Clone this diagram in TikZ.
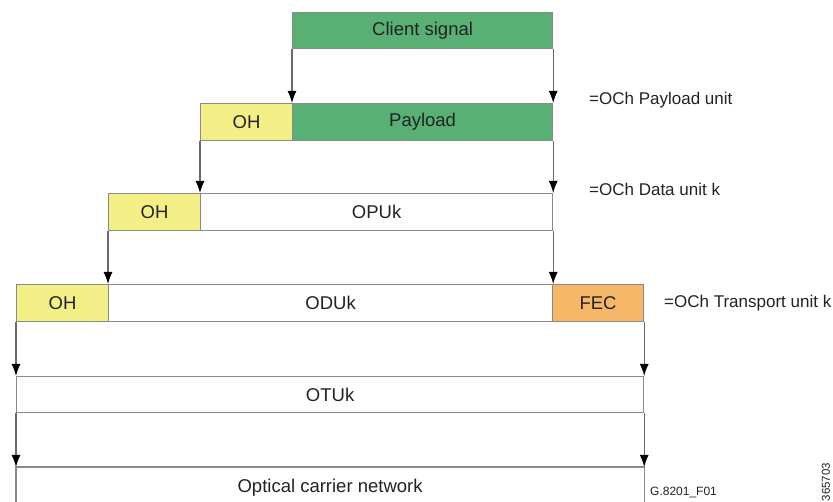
\documentclass[tikz,border=0pt]{standalone}
\usepackage{fontspec}
\setmainfont{Liberation Sans}
\usetikzlibrary{arrows.meta}
\definecolor{cgreen}{HTML}{58B074}
\definecolor{cyellow}{HTML}{F4EE86}
\definecolor{corange}{HTML}{F6B868}
\definecolor{cline}{HTML}{8A8A8A}
\definecolor{carrow}{HTML}{6A6A6A}
\definecolor{ctext}{HTML}{222222}
\begin{document}
\begin{tikzpicture}[x=1pt,y=-1pt,
  cell/.style={draw=cline, line width=1.2pt, anchor=north west, inner sep=0pt,
    minimum height=37pt, text=ctext, font=\fontsize{18.5}{18.5}\selectfont},
  green/.style={cell, fill=cgreen},
  yellow/.style={cell, fill=cyellow},
  orange/.style={cell, fill=corange},
  white/.style={cell, fill=white},
  side/.style={anchor=west, text=ctext, inner sep=0pt, font=\fontsize{17}{17}\selectfont},
  flow/.style={draw=carrow, line width=1.2pt, -{Latex[length=12pt,width=9pt,color=black]}}
]
\useasboundingbox (0,0) rectangle (833,502);
% row 1
\node[green, minimum width=260pt, minimum height=36pt] (cs) at (292,12) {Client signal};
% row 2
\node[yellow, minimum width=92pt] (oh2) at (200,103) {OH};
\node[green, minimum width=260pt] (pl) at (292,103) {Payload};
% row 3
\node[white, minimum width=352pt] (opu) at (200,193) {OPUk};
\node[yellow, minimum width=92pt] (oh3) at (108,193) {OH};
% row 4
\node[white, minimum width=444pt] (odu) at (108,284) {ODUk};
\node[yellow, minimum width=92pt] (oh4) at (16,284) {OH};
\node[orange, minimum width=91pt] (fec) at (552,284) {FEC};
% row 5
\node[white, minimum width=627pt, minimum height=36pt] (otu) at (16,376) {OTUk};
% row 6 (cut at the bottom edge)
\node[cell, draw=none, minimum width=627pt, minimum height=40pt] (ocn) at (16,467) {Optical carrier network};
\draw[draw=cline, line width=1.2pt] (ocn.south west) -- (ocn.north west) -- (ocn.north east) -- (ocn.south east);
% arrows
\draw[flow] (cs.south west) -- (pl.north west);
\draw[flow] (cs.south east) -- (pl.north east);
\draw[flow] (oh2.south west) -- (opu.north west);
\draw[flow] (pl.south east) -- (opu.north east);
\draw[flow] (oh3.south west) -- (odu.north west);
\draw[flow] (opu.south east) -- (odu.north east);
\draw[flow] (oh4.south west) -- (otu.north west);
\draw[flow] (fec.south east) -- (otu.north east);
\draw[flow] (otu.south west) -- (ocn.north west);
\draw[flow] (otu.south east) -- (ocn.north east);
% side labels
\node[side] (l1) at (589,100) {=OCh Payload unit};
\node[side] (l2) at (589,189) {=OCh Data unit k};
\node[side] (l3) at (664,303) {=OCh Transport unit k};
\node[anchor=west, inner sep=0pt, text=ctext, font=\fontsize{12}{12}\selectfont] (fig) at (650,493) {G.8201\_F01};
\node[rotate=90, inner sep=0pt, text=ctext, font=\fontsize{11.5}{11.5}\selectfont] (id) at (826,482) {365703};
\end{tikzpicture}
\end{document}
